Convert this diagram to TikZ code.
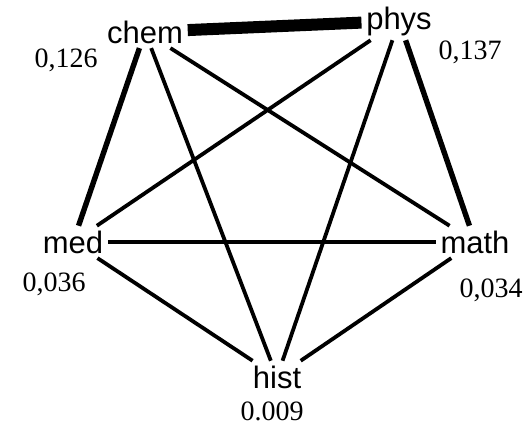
\documentclass[tikz,border=0pt]{standalone}
\usepackage{fontspec}
\setmainfont{Liberation Serif}
\newfontfamily\topicfont{Liberation Sans}

\begin{document}
\begin{tikzpicture}[
    x=0.5pt, y=-0.5pt,
    topic/.style={
        font=\topicfont\fontsize{15.5}{18}\selectfont,
        anchor=base,
        inner sep=2.2pt
    },
    share/.style={font=\fontsize{14}{16}\selectfont, anchor=base, inner sep=0pt},
    link/.style={line width=1.9pt},
    thin_link/.style={line width=1.6pt},
    strong_link/.style={line width=2.7pt},
    top_link/.style={line width=6pt}
]
\useasboundingbox (0,0) rectangle (528,423);

% topics
\node[topic] (chem) at (145,43) {chem};
\node[topic] (phys) at (399,29) {phys};
\node[topic] (med) at (73,253) {med};
\node[topic] (math) at (475,253) {math};
\node[topic] (hist) at (277,388) {hist};

% shares
\node[share] (s_chem) at (66,67) {0,126};
\node[share] (s_phys) at (470,59) {0,137};
\node[share] (s_med) at (54,291) {0,036};
\node[share] (s_math) at (491,297) {0,034};
\node[share] (s_hist) at (272,420) {0.009};

% links
\draw[top_link] (chem) -- (phys);
\draw[strong_link] (chem) -- (med);
\draw[strong_link] (phys) -- (math);
\draw[link] (chem) -- (hist);
\draw[link] (chem) -- (math);
\draw[link] (phys) -- (med);
\draw[link] (phys) -- (hist);
\draw[thin_link] (med) -- (math);
\draw[link] (med) -- (hist);
\draw[link] (math) -- (hist);

\end{tikzpicture}
\end{document}
